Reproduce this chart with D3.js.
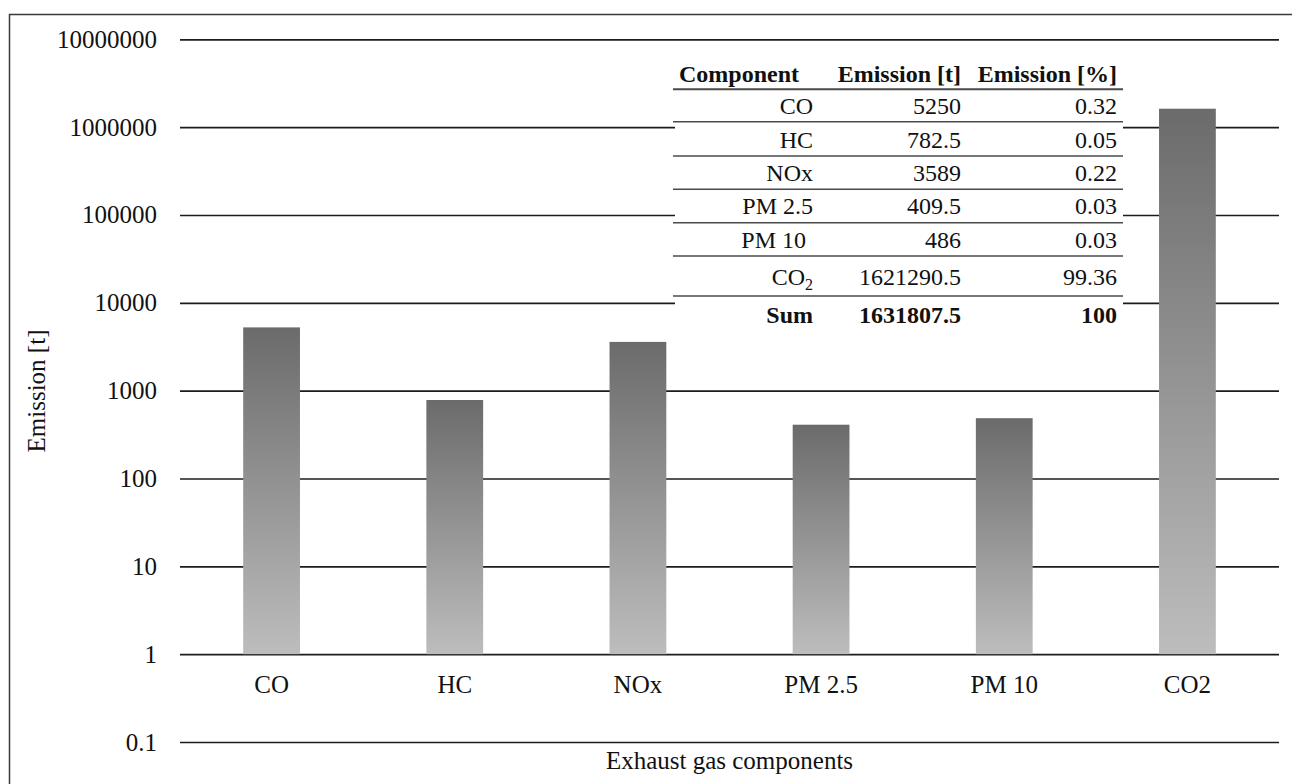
<!DOCTYPE html>
<html>
<head>
<meta charset="utf-8">
<script src="https://cdn.jsdelivr.net/npm/d3@7"></script>
<style>
  html, body { margin: 0; padding: 0; background: #fff; }
  svg { display: block; font-family: "Liberation Serif", "Times New Roman", serif; }
</style>
</head>
<body>
<svg id="chart" width="1292" height="784"></svg>
<script>
// Exhaust gas components and their emissions in tonnes
const categories = ["CO", "HC", "NOx", "PM 2.5", "PM 10", "CO2"];
const emissions = [5250, 782.5, 3589, 409.5, 486, 1621290.5];

// Logarithmic axis ticks
const tickValues = [0.1, 1, 10, 100, 1000, 10000, 100000, 1000000, 10000000];
const tickLabels = ["0.1", "1", "10", "100", "1000", "10000", "100000", "1000000", "10000000"];

// Summary table
const tableHeader = ["Component", "Emission [t]", "Emission [%]"];
const tableComponents = ["CO", "HC", "NOx", "PM 2.5", "PM 10", "CO2"];
const tableTonnes = ["5250", "782.5", "3589", "409.5", "486", "1621290.5"];
const tablePercent = ["0.32", "0.05", "0.22", "0.03", "0.03", "99.36"];
const tableSum = ["Sum", "1631807.5", "100"];

const svg = d3.select("#chart");
const W = 1292, H = 784;
const plot = { left: 180, right: 1279, top: 39.3, bottom: 742 };

// Outer frame (left and top edges)
svg.append("path")
  .attr("d", `M9.5,${H} V14.5 H${W}`)
  .attr("fill", "none")
  .attr("stroke", "#3a3a3a")
  .attr("stroke-width", 1.5);

const y = d3.scaleLog().domain([0.1, 1e7]).range([plot.bottom, plot.top]);
const x = d3.scaleBand().domain(categories).range([plot.left, plot.right]).padding(0);
const barW = x.bandwidth() * 0.31;

// Bar gradient: dark at top, light at bottom
const defs = svg.append("defs");
const grad = defs.append("linearGradient")
  .attr("id", "barGrad").attr("x1", 0).attr("y1", 0).attr("x2", 0).attr("y2", 1);
grad.append("stop").attr("offset", "0%").attr("stop-color", "#6b6b6b");
grad.append("stop").attr("offset", "100%").attr("stop-color", "#bdbdbd");

// Horizontal gridlines with labels
const yAxis = d3.axisLeft(y)
  .tickValues(tickValues)
  .tickFormat((d, i) => tickLabels[i])
  .tickSize(-(plot.right - plot.left))
  .tickPadding(23);

const gy = svg.append("g")
  .attr("transform", `translate(${plot.left},0)`)
  .call(yAxis);
gy.select(".domain").remove();
gy.selectAll(".tick line")
  .attr("stroke", "#1c1c1c")
  .attr("stroke-width", 1.7);
gy.selectAll(".tick text")
  .attr("font-size", 25)
  .attr("fill", "#111")
  .attr("font-family", "Liberation Serif, Times New Roman, serif");

// Bars rise from the value 1 baseline
svg.append("g").selectAll("rect")
  .data(categories.map((c, i) => ({ c, v: emissions[i] })))
  .join("rect")
  .attr("x", d => x(d.c) + (x.bandwidth() - barW) / 2)
  .attr("y", d => y(d.v))
  .attr("width", barW)
  .attr("height", d => y(1) - y(d.v))
  .attr("fill", "url(#barGrad)");

// Category labels under the baseline
const xAxis = d3.axisBottom(x).tickSize(0).tickPadding(21);
const gx = svg.append("g")
  .attr("transform", `translate(0,${y(1)})`)
  .call(xAxis);
gx.select(".domain").remove();
gx.selectAll(".tick text")
  .attr("font-size", 25)
  .attr("fill", "#111")
  .attr("font-family", "Liberation Serif, Times New Roman, serif");

// Axis titles
svg.append("text")
  .attr("x", (plot.left + plot.right) / 2)
  .attr("y", 769)
  .attr("text-anchor", "middle")
  .attr("font-size", 25)
  .attr("fill", "#111")
  .text("Exhaust gas components");

svg.append("text")
  .attr("transform", "translate(45,391) rotate(-90)")
  .attr("text-anchor", "middle")
  .attr("font-size", 25)
  .attr("fill", "#111")
  .text("Emission [t]");

// Inset table
const tbl = svg.append("g");
const tLeft = 675, tRight = 1123;
const colRight = [813, 961, 1117];
tbl.append("rect")
  .attr("x", tLeft).attr("y", 55)
  .attr("width", tRight - tLeft).attr("height", 280)
  .attr("fill", "#fff");

const fs = 24;
// header
tbl.append("text")
  .attr("x", 679).attr("y", 82)
  .attr("font-size", fs).attr("font-weight", "bold").attr("fill", "#111")
  .text(tableHeader[0]);
[1, 2].forEach(j => {
  tbl.append("text")
    .attr("x", colRight[j]).attr("y", 82)
    .attr("text-anchor", "end")
    .attr("font-size", fs).attr("font-weight", "bold").attr("fill", "#111")
    .text(tableHeader[j]);
});

const ruleY = [89.3, 121.7, 156, 189.3, 222.7, 256, 296];
const baseY = [114.3, 148.3, 180.7, 214.3, 248.3, 285, 322.7];

tbl.selectAll("line.rule")
  .data(ruleY)
  .join("line")
  .attr("class", "rule")
  .attr("x1", 673).attr("x2", tRight)
  .attr("y1", d => d).attr("y2", d => d)
  .attr("stroke", "#4a4a4a")
  .attr("stroke-width", (d, i) => i === 0 ? 2 : 1.6);

tableComponents.forEach((c, i) => {
  const t = tbl.append("text")
    .attr("x", colRight[0] - (c === "PM 10" ? 7 : 0)).attr("y", baseY[i])
    .attr("text-anchor", "end")
    .attr("font-size", fs).attr("fill", "#111");
  if (c === "CO2") {
    t.append("tspan").text("CO");
    t.append("tspan").attr("font-size", 16).attr("dy", 5).text("2");
  } else {
    t.text(c);
  }
  tbl.append("text")
    .attr("x", colRight[1]).attr("y", baseY[i])
    .attr("text-anchor", "end")
    .attr("font-size", fs).attr("fill", "#111")
    .text(tableTonnes[i]);
  tbl.append("text")
    .attr("x", colRight[2]).attr("y", baseY[i])
    .attr("text-anchor", "end")
    .attr("font-size", fs).attr("fill", "#111")
    .text(tablePercent[i]);
});

tableSum.forEach((s, j) => {
  tbl.append("text")
    .attr("x", colRight[j]).attr("y", baseY[6])
    .attr("text-anchor", "end")
    .attr("font-size", fs).attr("font-weight", "bold").attr("fill", "#111")
    .text(s);
});
</script>
</body>
</html>
